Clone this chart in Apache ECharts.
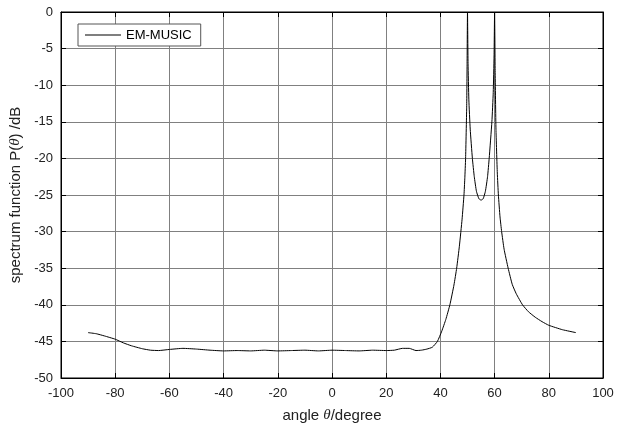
<!DOCTYPE html>
<html>
<head>
<meta charset="utf-8">
<script src="https://cdn.jsdelivr.net/npm/echarts@6/dist/echarts.min.js"></script>
<style>
  html, body { margin: 0; padding: 0; background: #fff; }
  #chart { width: 619px; height: 438px; }
</style>
</head>
<body>
<div id="chart"></div>
<script>
// 角度 (degree)
const angles = [
  -90, -87, -84, -80, -77, -74, -70, -67, -64, -60, -55, -50, -45, -40, -35, -30, -25, -20, -15, -10, -5, 0,
  5, 10, 15, 20, 23, 26, 28.5, 31, 33, 35, 37, 38.9, 40.5, 42, 43.5, 45, 46, 47, 48, 48.7, 49, 49.3, 49.7, 49.85, 50,
  50.2, 50.5, 51, 51.8, 52.5, 53.3, 54.2, 55, 55.8, 56.6, 57.4, 58, 59, 59.5, 59.8, 60,
  60.2, 60.5, 61, 61.4, 62, 62.6, 63.5, 65, 66.5, 68, 70.3, 72.5, 75, 77.5, 80, 85, 90
];
// 空间谱 P(theta) /dB
const spectrum = [
  -43.8, -43.95, -44.25, -44.7, -45.2, -45.6, -46.0, -46.2, -46.25, -46.1, -45.95, -46.05, -46.2, -46.3, -46.25, -46.3, -46.2, -46.3, -46.25, -46.2, -46.3, -46.2,
  -46.25, -46.3, -46.2, -46.25, -46.2, -45.95, -45.95, -46.25, -46.2, -46.05, -45.8, -45.0, -43.6, -42.0, -40.0, -37.3, -35.0, -32.0, -28.3, -25.0, -22.8, -20.0, -13.0, -7.0, 0,
  -7.0, -12.0, -16.0, -20.0, -22.5, -24.5, -25.5, -25.7, -25.5, -24.5, -22.5, -20.0, -15.0, -11.0, -6.0, 0,
  -8.0, -16.0, -22.0, -25.0, -28.0, -30.0, -32.4, -35.0, -37.2, -38.5, -40.0, -40.95, -41.7, -42.3, -42.8, -43.4, -43.8
];
const xTicks = { min: -100, max: 100, step: 20 };
const yTicks = { min: -50, max: 0, step: 5 };

const points = angles.map((a, i) => [a, spectrum[i]]);

const gridColor = '#808080';
const font = 'Liberation Sans, Arial, sans-serif';

const myChart = echarts.init(document.getElementById('chart'));
myChart.setOption({
  animation: false,
  backgroundColor: '#fff',
  textStyle: { fontFamily: font },
  grid: {
    left: 55, right: 16, top: 12, bottom: 60,
    show: true, borderColor: '#000', borderWidth: 1
  },
  legend: {
    left: 78, top: 24,
    backgroundColor: '#fff',
    borderColor: '#555', borderWidth: 1,
    padding: [4, 9, 4, 7],
    itemWidth: 36, itemHeight: 1, itemGap: 6,
    itemStyle: { color: '#000' },
    textStyle: { fontSize: 13, color: '#000', fontFamily: font, lineHeight: 14 },
    data: [{ name: 'EM-MUSIC', icon: 'rect' }]
  },
  xAxis: [{
    type: 'value',
    min: xTicks.min, max: xTicks.max, interval: xTicks.step,
    name: 'angle {i|θ}/degree',
    nameLocation: 'middle', nameGap: 30,
    nameTextStyle: {
      fontSize: 15, color: '#222', fontFamily: font,
      rich: { i: { fontStyle: 'italic', fontSize: 15, fontFamily: 'Liberation Serif, serif', color: '#222' } }
    },
    axisLine: { show: true, onZero: false, lineStyle: { color: '#000' } },
    axisTick: { inside: true, length: 5, lineStyle: { color: '#000' } },
    axisLabel: { fontSize: 13, color: '#222', margin: 9 },
    splitLine: { show: true, lineStyle: { color: gridColor, width: 1 } }
  }, {
    type: 'value', position: 'top',
    min: xTicks.min, max: xTicks.max, interval: xTicks.step,
    axisLine: { show: true, onZero: false, lineStyle: { color: '#000' } },
    axisTick: { inside: true, length: 5, lineStyle: { color: '#000' } },
    axisLabel: { show: false }, splitLine: { show: false }
  }],
  yAxis: [{
    type: 'value',
    min: yTicks.min, max: yTicks.max, interval: yTicks.step,
    name: 'spectrum function P({i|θ}) /dB',
    nameLocation: 'middle', nameGap: 38,
    nameTextStyle: {
      fontSize: 15, color: '#222', fontFamily: font,
      rich: { i: { fontStyle: 'italic', fontSize: 15, fontFamily: 'Liberation Serif, serif', color: '#222' } }
    },
    axisLine: { show: true, onZero: false, lineStyle: { color: '#000' } },
    axisTick: { inside: true, length: 5, lineStyle: { color: '#000' } },
    axisLabel: { fontSize: 13, color: '#222', margin: 8 },
    splitLine: { show: true, lineStyle: { color: gridColor, width: 1 } }
  }, {
    type: 'value', position: 'right',
    min: yTicks.min, max: yTicks.max, interval: yTicks.step,
    axisLine: { show: true, onZero: false, lineStyle: { color: '#000' } },
    axisTick: { inside: true, length: 5, lineStyle: { color: '#000' } },
    axisLabel: { show: false }, splitLine: { show: false }
  }],
  series: [{
    name: 'EM-MUSIC',
    type: 'line',
    data: points,
    showSymbol: false,
    symbol: 'none',
    smooth: 0.15,
    color: '#000',
    lineStyle: { color: '#000', width: 1 },
    clip: true
  }]
});
</script>
</body>
</html>
